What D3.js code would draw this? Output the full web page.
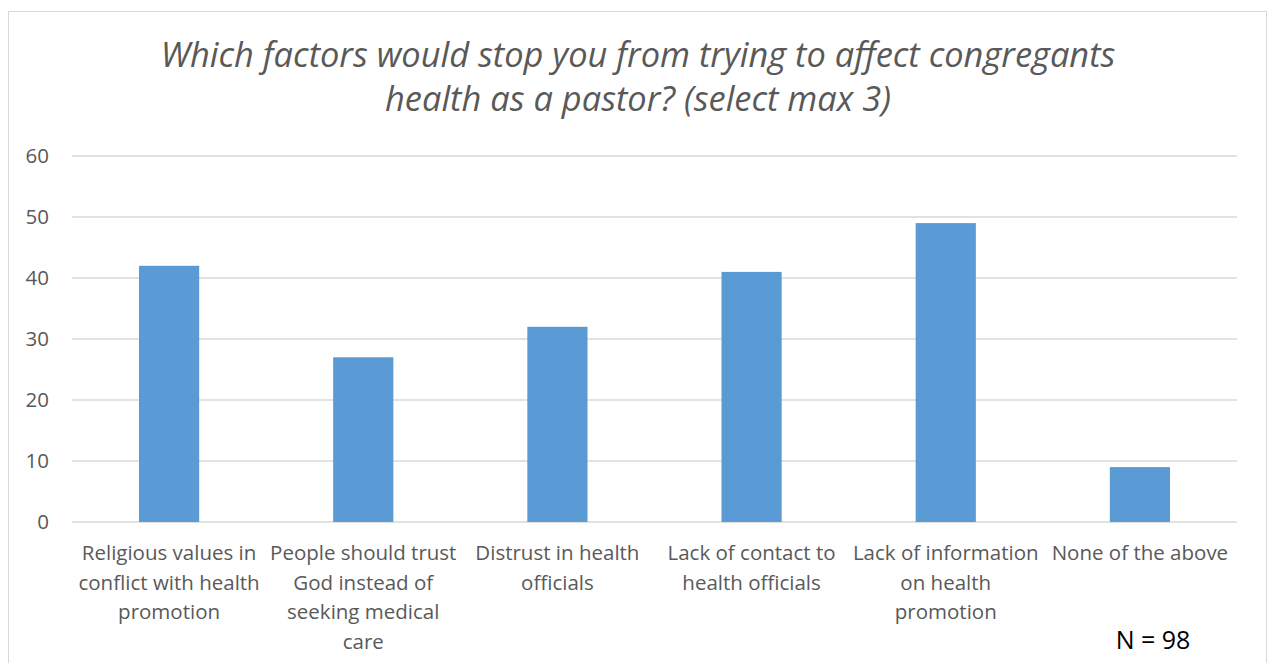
<!DOCTYPE html>
<html>
<head>
<meta charset="utf-8">
<script src="https://cdn.jsdelivr.net/npm/d3@7"></script>
<style>
  html, body { margin: 0; padding: 0; background: #fff; }
  svg { display: block; }
</style>
</head>
<body>
<svg id="chart" width="1272" height="663"></svg>
<script>
// Survey answers: number of pastors choosing each factor
const categories = [
  "Religious values in conflict with health promotion",
  "People should trust God instead of seeking medical care",
  "Distrust in health officials",
  "Lack of contact to health officials",
  "Lack of information on health promotion",
  "None of the above"
];
const categoryLines = [
  ["Religious values in", "conflict with health", "promotion"],
  ["People should trust", "God instead of", "seeking medical", "care"],
  ["Distrust in health", "officials"],
  ["Lack of contact to", "health officials"],
  ["Lack of information", "on health", "promotion"],
  ["None of the above"]
];
const counts = [42, 27, 32, 41, 49, 9];
const yTicks = [0, 10, 20, 30, 40, 50, 60];
const titleLines = [
  "Which factors would stop you from trying to affect congregants",
  "health as a pastor? (select max 3)"
];
const noteText = "N = 98";

const svg = d3.select("#chart");
const font = "'Open Sans', 'Noto Sans', sans-serif";
const grey = "#595959";

// Chart frame
svg.append("rect")
  .attr("x", 8.5).attr("y", 11.5)
  .attr("width", 1258).attr("height", 670)
  .attr("fill", "#fff").attr("stroke", "#d9d9d9").attr("stroke-width", 1);

const plot = { left: 72, right: 1237, top: 156, bottom: 522 };

const x = d3.scaleBand()
  .domain(categories)
  .range([plot.left, plot.right])
  .paddingInner(0.69)
  .paddingOuter(0.345);

const y = d3.scaleLinear()
  .domain([0, 60])
  .range([plot.bottom, plot.top]);

// Horizontal gridlines
svg.append("g")
  .selectAll("line")
  .data(yTicks)
  .join("line")
  .attr("x1", plot.left).attr("x2", plot.right)
  .attr("y1", d => y(d)).attr("y2", d => y(d))
  .attr("stroke", "#d9d9d9").attr("stroke-width", 1.3);

// Y axis labels
const yAxis = d3.axisLeft(y).tickValues(yTicks).tickSize(0).tickPadding(0);
const yg = svg.append("g")
  .attr("transform", `translate(${plot.left - 23},0)`)
  .call(yAxis);
yg.select(".domain").remove();
yg.selectAll("text")
  .attr("font-family", font).attr("font-size", 20.5)
  .attr("fill", grey).attr("dy", "0.34em");

// Bars
svg.append("g")
  .selectAll("rect")
  .data(counts)
  .join("rect")
  .attr("x", (d, i) => x(categories[i]))
  .attr("width", x.bandwidth())
  .attr("y", d => y(d))
  .attr("height", d => y(0) - y(d))
  .attr("fill", "#5b9bd5");

// Category labels, wrapped over several lines
const xg = svg.append("g");
categoryLines.forEach((lines, i) => {
  const cx = x(categories[i]) + x.bandwidth() / 2;
  const t = xg.append("text")
    .attr("font-family", font).attr("font-size", 20.5)
    .attr("fill", grey).attr("text-anchor", "middle");
  lines.forEach((ln, j) => {
    t.append("tspan").attr("x", cx).attr("y", 560 + j * 29.5).text(ln);
  });
});

// Title
const title = svg.append("text")
  .attr("font-family", font).attr("font-style", "italic")
  .attr("font-size", 29).attr("fill", grey).attr("text-anchor", "middle");
titleLines.forEach((ln, j) => {
  title.append("tspan").attr("x", 638).attr("y", 67 + j * 44).text(ln);
});
// Scale title to the intended width of the first line
const firstLen = title.select("tspan").node().getComputedTextLength();
const targetLen = 955;
title.attr("font-size", 29 * targetLen / firstLen);

// Sample size note
svg.append("text")
  .attr("x", 1153).attr("y", 649)
  .attr("font-family", font).attr("font-size", 25)
  .attr("fill", "#000").attr("text-anchor", "middle")
  .text(noteText);
</script>
</body>
</html>
